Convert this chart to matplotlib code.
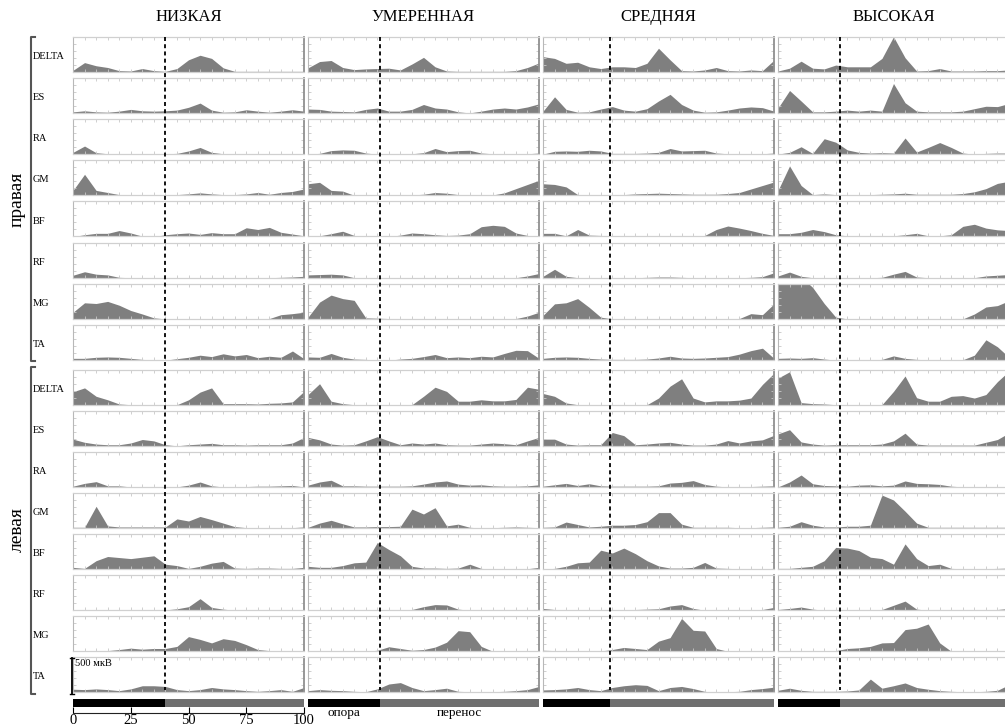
import matplotlib
matplotlib.use('Agg')
import matplotlib.pyplot as plt
from matplotlib.lines import Line2D

plt.rcParams['font.family'] = ['Liberation Serif', 'DejaVu Serif']

speeds = ['НИЗКАЯ', 'УМЕРЕННАЯ', 'СРЕДНЯЯ', 'ВЫСОКАЯ']
muscles = ['DELTA', 'ES', 'RA', 'GM', 'BF', 'RF', 'MG', 'TA']
sides = ['правая', 'левая']
stance = [40, 31, 29, 27]          # % цикла, конец опоры
cycle = [0, 5, 10, 15, 20, 25, 30, 35, 40, 45, 50,
         55, 60, 65, 70, 75, 80, 85, 90, 95, 100]

# ЭМГ, мкВ (панель = 500 мкВ)
low_right = [
    [20, 130, 85, 60, 15, 10, 45, 15, 5, 45, 170, 235, 190, 55, 5, 5, 5, 5, 5, 5, 5],
    [15, 30, 15, 10, 25, 50, 30, 25, 30, 40, 80, 140, 40, 10, 15, 45, 25, 10, 25, 45, 25],
    [25, 115, 20, 5, 0, 0, 0, 0, 5, 10, 45, 95, 25, 5, 0, 0, 0, 0, 0, 0, 0],
    [70, 300, 70, 40, 10, 5, 5, 5, 5, 10, 20, 35, 20, 10, 10, 20, 40, 15, 40, 55, 90],
    [0, 25, 45, 45, 85, 50, 5, 0, 25, 40, 50, 30, 55, 40, 40, 125, 100, 130, 60, 35, 10],
    [35, 85, 50, 40, 5, 0, 0, 0, 0, 0, 0, 0, 0, 0, 0, 0, 0, 0, 5, 10, 20],
    [95, 230, 220, 250, 195, 120, 70, 15, 0, 0, 0, 0, 0, 0, 0, 0, 0, 5, 60, 75, 95],
    [25, 25, 40, 45, 40, 25, 10, 0, 0, 20, 40, 70, 50, 90, 60, 80, 35, 55, 40, 130, 20],
]
moderate_right = [
    [55, 145, 160, 60, 30, 40, 45, 50, 25, 110, 205, 70, 10, 5, 5, 5, 5, 5, 15, 60, 125],
    [55, 50, 25, 20, 15, 50, 70, 25, 25, 50, 120, 70, 55, 15, 0, 25, 55, 70, 55, 85, 130],
    [0, 10, 50, 60, 55, 15, 0, 0, 0, 5, 20, 80, 35, 50, 55, 15, 5, 0, 0, 5, 15],
    [165, 185, 70, 60, 0, 0, 0, 0, 0, 5, 15, 40, 30, 10, 0, 0, 5, 35, 95, 155, 215],
    [0, 10, 40, 75, 15, 0, 0, 0, 20, 50, 40, 25, 15, 20, 40, 140, 160, 145, 50, 15, 0],
    [40, 45, 50, 40, 0, 0, 0, 0, 0, 0, 0, 0, 0, 0, 0, 0, 0, 0, 0, 25, 60],
    [25, 240, 340, 290, 265, 15, 10, 5, 0, 0, 0, 0, 0, 0, 0, 0, 0, 0, 5, 40, 95],
    [45, 40, 95, 40, 15, 10, 0, 0, 15, 25, 50, 80, 35, 45, 35, 55, 45, 95, 140, 135, 25],
]
medium_right = [
    [215, 190, 120, 135, 70, 45, 70, 70, 60, 120, 335, 170, 15, 10, 25, 60, 15, 10, 25, 15, 165],
    [25, 230, 50, 10, 15, 55, 90, 40, 25, 60, 170, 265, 120, 40, 10, 15, 40, 70, 85, 75, 25],
    [0, 40, 45, 40, 55, 45, 10, 10, 10, 15, 25, 80, 45, 50, 55, 15, 5, 5, 5, 5, 15],
    [165, 155, 120, 10, 10, 10, 10, 10, 20, 25, 30, 25, 20, 15, 15, 15, 25, 40, 90, 140, 190],
    [45, 45, 10, 100, 20, 15, 10, 5, 5, 5, 5, 5, 5, 5, 15, 100, 150, 120, 85, 45, 15],
    [20, 120, 20, 0, 0, 0, 0, 0, 0, 5, 10, 10, 5, 0, 0, 0, 0, 0, 5, 15, 70],
    [50, 215, 230, 290, 165, 25, 0, 0, 0, 0, 0, 0, 0, 0, 0, 0, 0, 5, 75, 60, 215],
    [25, 40, 45, 40, 25, 15, 10, 10, 10, 15, 30, 55, 30, 25, 30, 40, 50, 85, 135, 170, 25],
]
high_right = [
    [10, 50, 150, 50, 40, 95, 70, 70, 70, 190, 500, 200, 10, 15, 45, 10, 10, 10, 15, 15, 25],
    [70, 320, 170, 15, 15, 25, 40, 25, 40, 25, 420, 145, 25, 15, 15, 15, 25, 60, 95, 90, 135],
    [0, 25, 105, 10, 220, 170, 60, 25, 15, 20, 15, 230, 30, 95, 165, 95, 15, 0, 10, 15, 15],
    [70, 420, 140, 10, 20, 10, 10, 10, 10, 15, 20, 30, 15, 15, 15, 15, 25, 50, 95, 170, 200],
    [40, 40, 60, 100, 70, 25, 10, 0, 5, 5, 10, 25, 45, 10, 10, 25, 145, 175, 120, 95, 85],
    [25, 80, 20, 0, 0, 0, 0, 0, 0, 5, 50, 90, 10, 0, 0, 0, 0, 0, 25, 35, 45],
    [600, 650, 600, 450, 220, 25, 0, 0, 0, 0, 0, 0, 0, 0, 0, 0, 0, 70, 170, 190, 260],
    [25, 30, 25, 35, 15, 0, 0, 0, 0, 10, 60, 25, 10, 5, 5, 5, 5, 70, 290, 190, 40],
]
low_left = [
    [185, 240, 120, 70, 10, 0, 0, 0, 0, 0, 70, 180, 240, 15, 15, 15, 10, 20, 25, 40, 190],
    [95, 50, 25, 15, 15, 40, 90, 70, 15, 0, 15, 25, 35, 15, 15, 10, 15, 15, 15, 40, 120],
    [10, 50, 75, 15, 15, 0, 0, 0, 0, 0, 25, 70, 15, 0, 0, 5, 10, 10, 15, 20, 0],
    [10, 10, 310, 30, 15, 15, 15, 15, 15, 130, 100, 165, 120, 70, 20, 5, 0, 0, 0, 5, 15],
    [25, 10, 120, 180, 165, 150, 170, 190, 70, 50, 10, 40, 85, 110, 15, 10, 15, 15, 10, 10, 25],
    [5, 5, 5, 5, 5, 5, 5, 5, 5, 20, 50, 165, 40, 15, 0, 0, 0, 0, 0, 0, 0],
    [0, 0, 0, 10, 25, 45, 30, 40, 40, 70, 210, 170, 120, 180, 155, 95, 25, 10, 0, 0, 0],
    [45, 40, 50, 40, 25, 50, 95, 95, 85, 40, 25, 40, 70, 50, 40, 25, 15, 25, 40, 15, 70],
]
moderate_left = [
    [145, 300, 50, 15, 0, 0, 0, 0, 0, 0, 120, 250, 190, 50, 50, 70, 55, 55, 75, 250, 220],
    [120, 85, 25, 10, 15, 70, 130, 70, 15, 40, 25, 40, 15, 10, 10, 25, 40, 30, 15, 70, 120],
    [25, 70, 95, 15, 15, 10, 10, 10, 10, 15, 40, 70, 85, 40, 25, 30, 15, 10, 10, 15, 30],
    [10, 70, 110, 60, 15, 15, 20, 20, 25, 270, 200, 290, 30, 55, 10, 0, 5, 10, 15, 10, 5],
    [40, 25, 25, 50, 90, 100, 380, 280, 190, 40, 15, 15, 10, 15, 70, 10, 0, 0, 0, 5, 25],
    [0, 0, 0, 0, 0, 0, 0, 0, 0, 10, 50, 80, 75, 15, 0, 0, 0, 0, 0, 0, 0],
    [0, 0, 0, 0, 0, 0, 15, 65, 40, 15, 25, 60, 130, 295, 280, 70, 0, 0, 0, 0, 0],
    [25, 40, 30, 25, 15, 10, 50, 120, 140, 70, 25, 40, 60, 15, 10, 0, 10, 15, 25, 40, 85],
]
medium_left = [
    [160, 120, 25, 0, 0, 0, 0, 0, 0, 0, 95, 265, 370, 95, 40, 55, 55, 65, 95, 290, 450],
    [95, 95, 25, 10, 15, 15, 190, 145, 15, 25, 40, 50, 25, 10, 10, 25, 75, 40, 70, 85, 150],
    [10, 30, 50, 20, 45, 15, 10, 10, 10, 10, 15, 55, 65, 90, 35, 10, 0, 5, 5, 10, 15],
    [10, 15, 85, 50, 15, 25, 40, 40, 50, 90, 220, 220, 55, 10, 10, 10, 10, 5, 5, 10, 15],
    [0, 10, 40, 90, 100, 270, 230, 300, 220, 120, 45, 15, 15, 25, 95, 15, 10, 5, 5, 5, 10],
    [25, 10, 0, 0, 0, 0, 0, 0, 10, 15, 20, 60, 80, 25, 0, 0, 0, 0, 0, 10, 40],
    [15, 10, 5, 5, 5, 5, 25, 55, 40, 25, 145, 195, 470, 300, 290, 40, 0, 5, 5, 5, 10],
    [35, 40, 50, 70, 40, 25, 70, 95, 110, 100, 25, 70, 85, 55, 15, 0, 10, 15, 40, 55, 75],
]
high_left = [
    [380, 470, 30, 15, 10, 0, 0, 0, 0, 0, 190, 410, 100, 50, 50, 120, 130, 95, 145, 330, 480],
    [170, 230, 55, 25, 10, 15, 15, 15, 15, 25, 70, 180, 25, 10, 10, 10, 10, 10, 50, 90, 185],
    [0, 70, 170, 45, 20, 15, 10, 25, 30, 15, 25, 85, 50, 45, 35, 10, 0, 0, 0, 0, 0],
    [10, 25, 90, 40, 15, 15, 25, 25, 40, 470, 400, 240, 70, 10, 10, 10, 10, 10, 10, 10, 10],
    [10, 10, 25, 40, 120, 310, 300, 265, 170, 150, 70, 360, 150, 50, 70, 10, 5, 5, 5, 10, 15],
    [10, 25, 45, 15, 0, 0, 0, 0, 0, 10, 70, 130, 15, 0, 0, 0, 0, 0, 0, 10, 25],
    [10, 10, 10, 10, 10, 10, 40, 50, 70, 120, 125, 310, 330, 390, 120, 0, 0, 0, 0, 0, 0],
    [30, 60, 30, 15, 15, 15, 20, 35, 190, 60, 95, 135, 70, 45, 25, 15, 10, 10, 15, 30, 110],
]

columns = [(low_right, low_left), (moderate_right, moderate_left),
           (medium_right, medium_left), (high_right, high_left)]

W, H = 1005, 728
fig = plt.figure(figsize=(W / 100, H / 100), dpi=100)


def box(x, y, w, h):
    # пиксели (от верхнего левого угла) -> доли фигуры
    return [x / W, 1 - (y + h) / H, w / W, h / H]


def fline(xs, ys, **kw):
    fig.add_artist(Line2D([x / W for x in xs], [1 - y / H for y in ys], **kw))


col_x = [73, 308, 543, 778]
col_w = 231
panel_h = 35


def row_base(i):
    if i < 8:
        return 71.7 + 41.2 * i
    return 404.7 + 41.1 * (i - 8)


for c, (right, left) in enumerate(columns):
    for i, vals in enumerate(right + left):
        base = row_base(i)
        ax = fig.add_axes(box(col_x[c], base - panel_h, col_w, panel_h))
        ax.fill_between(cycle, vals, color='#7f7f7f', lw=0)
        ax.set_xlim(0, 100)
        ax.set_ylim(0, 500)
        ax.set_xticks(range(0, 101, 5))
        ax.set_yticks(range(0, 501, 100))
        ax.tick_params(which='both', direction='in', top=True, right=True,
                       length=2, width=0.6, color='#c8c8c8',
                       labelbottom=False, labelleft=False)
        for s in ('top', 'bottom'):
            ax.spines[s].set_color('#d0d0d0')
            ax.spines[s].set_linewidth(0.9)
        ax.spines['left'].set_color('#b8b8b8')
        ax.spines['right'].set_color('#909090')
        ax.spines['right'].set_linewidth(1.3)
        if c == 0:
            fig.text(33 / W, 1 - (base - panel_h / 2 + 2) / H, muscles[i % 8],
                     ha='left', va='center', fontsize=7.5)

    # фазовые полосы
    bx = fig.add_axes(box(col_x[c], 699, col_w, 8))
    bx.barh(0, stance[c], left=0, height=1, color='black')
    bx.barh(0, 100 - stance[c], left=stance[c], height=1, color='#6f6f6f')
    bx.set_xlim(0, 100)
    bx.set_ylim(-0.5, 0.5)
    bx.axis('off')
    if c == 1:
        bx.text(stance[c] / 2, -0.75, 'опора', transform=bx.get_xaxis_transform(),
                ha='center', va='center', fontsize=9.5)
        bx.text((stance[c] + 100) / 2, -0.75, 'перенос', transform=bx.get_xaxis_transform(),
                ha='center', va='center', fontsize=9.5)

    # граница опоры
    xd = col_x[c] + stance[c] / 100 * col_w
    fline([xd, xd], [37, 690], color='black', lw=1.3, ls=(0, (2.2, 1.8)))

    fig.text((col_x[c] + col_w / 2) / W, 1 - 17 / H, speeds[c],
             ha='center', va='center', fontsize=12)

# ось % цикла
xa = fig.add_axes(box(73, 703, 231, 10))
xa.patch.set_visible(False)
for s in ('top', 'left', 'right'):
    xa.spines[s].set_visible(False)
xa.spines['bottom'].set_color('#222222')
xa.set_xlim(0, 100)
xa.set_xticks([0, 25, 50, 75, 100])
xa.set_yticks([])
xa.tick_params(axis='x', direction='in', length=4, labelsize=10.5, pad=1)

# скобки и подписи сторон
fline([35, 31, 31, 35], [37, 37, 361, 361], color='#555555', lw=1.5)
fline([35, 31, 31, 35], [367, 367, 694, 694], color='#555555', lw=1.5)
fig.text(17 / W, 1 - 199 / H, sides[0], rotation=90, ha='center', va='center', fontsize=14)
fig.text(17 / W, 1 - 530 / H, sides[1], rotation=90, ha='center', va='center', fontsize=14)

# масштаб
fline([72, 72], [658, 694], color='black', lw=1.3)
fline([70, 74], [658, 658], color='black', lw=1.0)
fline([70, 74], [694, 694], color='black', lw=1.0)
fig.text(75 / W, 1 - 663 / H, '500 мкВ', ha='left', va='center', fontsize=7.5)

fig.savefig('out.png', dpi=100)
